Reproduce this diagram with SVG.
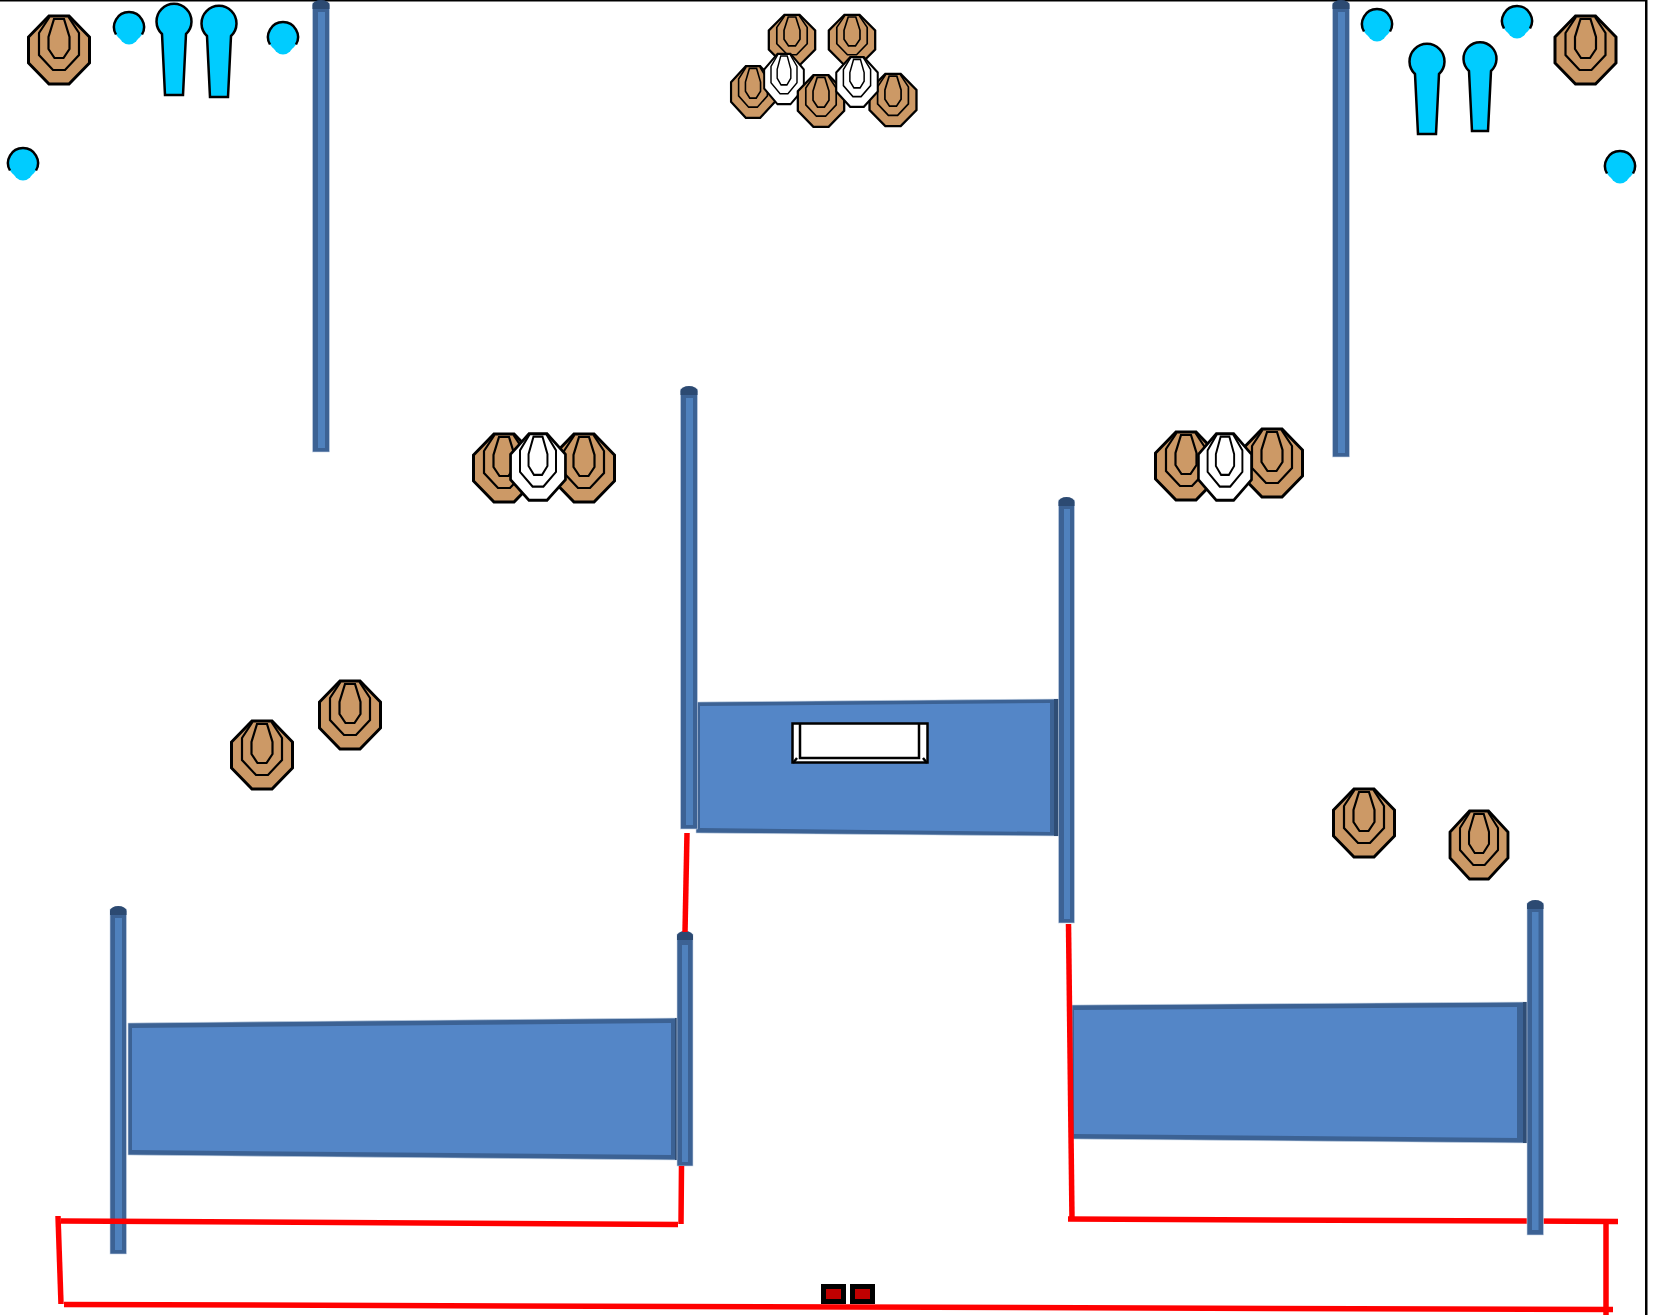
<svg xmlns="http://www.w3.org/2000/svg" width="1654" height="1315" viewBox="0 0 1654 1315">
<style>
.oct{stroke:#000;stroke-width:3;stroke-linejoin:miter}
.ring{fill:none;stroke:#000;stroke-width:2.2;stroke-linejoin:miter}
.brown{fill:#cc9966}
.white{fill:#fff}
.cyan{fill:#00ccff}
.cyanS{fill:#00ccff;stroke:#000;stroke-width:2.5}
.arc{fill:none;stroke:#000;stroke-width:2.5}
.po{fill:#3c6294;stroke:#c9d6e8;stroke-width:.6}
.pi{fill:#4f81bd}
.cap{fill:#2c4a72}
.pan{fill:#3c6294;stroke:#c9d6e8;stroke-width:.6}
.pani{fill:#5486c7}
.band{fill:#2f4d75}
.red{fill:none;stroke:#ff0000;stroke-width:5.500}
</style>
<defs>
<g id="tgt">
<polygon class="oct" points="-10,-34 10,-34 30.500,-13 30.500,13 10,34 -10,34 -30.500,13 -30.500,-13"/>
<polyline class="ring" points="-9.500,-33 -20,-17 -20,5 -6,20 6,20 20,5 20,-17 9.500,-33"/>
<polygon class="ring" points="-5,-31 5,-31 10.500,-13 10.500,-1 4.500,8 -4.500,8 -10.500,-1 -10.500,-13"/>
</g>
<g id="steel">
<circle class="cyan" r="15"/>
<path class="arc" d="M-13,7.500 A15,15 0 1 1 13,7.500"/>
<circle class="cyan" cy="7.500" r="10"/>
</g>
</defs>
<rect width="1654" height="1315" fill="#fff"/>
<g id="frame">
<rect x="0" y="0" width="1647" height="1.500" fill="#000"/>
<rect x="1645" y="0" width="2.500" height="1315" fill="#000"/>
</g>
<g id="panel-left">
<polygon class="pan" points="128,1023 678,1018 678,1160 128,1155"/>
<polygon class="pani" points="132,1028 671,1023 671,1155 132,1150"/>
<polygon class="band" points="675,1018 678,1018 678,1160 675,1160"/>
</g>
<g id="panel-mid">
<polygon class="pan" points="696,702 1059,699 1059,836 696,833"/>
<polygon class="pani" points="700,706 1050,703 1050,832 700,828"/>
<polygon class="band" points="1054,699 1059,699 1059,836 1054,836"/>
<rect x="792.500" y="723.500" width="135" height="39" fill="#fff" stroke="#000" stroke-width="2.500"/>
<path d="M800,724V758H919V724M793,763L797,758M927,763L923,758" fill="none" stroke="#000" stroke-width="2.500"/>
</g>
<g id="panel-right">
<polygon class="pan" points="1072,1005 1527,1002 1527,1143 1072,1139"/>
<polygon class="pani" points="1074,1010 1517,1007 1517,1138 1074,1134"/>
<polygon class="band" points="1523,1002 1527,1002 1527,1143 1523,1143"/>
</g>
<g id="post-a"><rect class="po" x="312.500" y="3" width="17" height="449"/><rect class="pi" x="318" y="12" width="7" height="436"/><path class="cap" d="M312.500,9V5A8.500,5 0 0 1 329.500,5V9Z"/></g>
<g id="post-b"><rect class="po" x="1332.500" y="3" width="17" height="454"/><rect class="pi" x="1338" y="12" width="7" height="441"/><path class="cap" d="M1332.500,9V5A8.500,5 0 0 1 1349.500,5V9Z"/></g>
<g id="post-c"><rect class="po" x="680.500" y="389" width="17" height="440"/><rect class="pi" x="686" y="398" width="7" height="427"/><path class="cap" d="M680.500,395V391A8.500,5 0 0 1 697.500,391V395Z"/></g>
<g id="post-d"><rect class="po" x="1058.500" y="500" width="16" height="423"/><rect class="pi" x="1064" y="509" width="6" height="410"/><path class="cap" d="M1058.500,506V502A8,5 0 0 1 1074.500,502V506Z"/></g>
<g id="post-e"><rect class="po" x="677" y="934" width="16" height="232"/><rect class="pi" x="682" y="945" width="6" height="217"/><path class="cap" d="M677,940V936A8,5 0 0 1 693,936V940Z"/></g>
<g id="post-f"><rect class="po" x="110" y="909" width="16.500" height="345"/><rect class="pi" x="115" y="918" width="7" height="332"/><path class="cap" d="M110,915V911A8.250,5 0 0 1 126.500,911V915Z"/></g>
<g id="connectors">
<path class="red" d="M687,833L685,932"/>
<path class="red" d="M1068.500,924L1072,1219"/>
<path class="red" d="M1068,1219L1618,1221.500"/>
<path class="red" d="M1606,1221V1315"/>
<path class="red" d="M64,1304.500L1613,1309.500"/>
<path class="red" d="M58,1216L61,1304"/>
<path class="red" d="M61,1221L678,1224.500M681.500,1166L681,1224"/>
</g>
<g id="post-g"><rect class="po" x="1527" y="903" width="16.500" height="332"/><rect class="pi" x="1532" y="912" width="6.500" height="318"/><path class="cap" d="M1527,909V905A8.250,5 0 0 1 1543.500,905V909Z"/></g>
<g id="target-1" class="brown"><use href="#tgt" transform="translate(59,50)"/></g>
<g id="target-2" class="brown"><use href="#tgt" transform="translate(1585.500,50)"/></g>
<g id="target-3" class="brown"><use href="#tgt" transform="translate(262,755)"/></g>
<g id="target-4" class="brown"><use href="#tgt" transform="translate(350,715)"/></g>
<g id="target-5" class="brown"><use href="#tgt" transform="translate(1364,823)"/></g>
<g id="target-6" class="brown"><use href="#tgt" transform="translate(1479,845) scale(.95,1)"/></g>
<g id="cluster-top">
<g class="brown"><use href="#tgt" transform="translate(792,40) scale(.76,.74)"/></g>
<g class="brown"><use href="#tgt" transform="translate(852,40) scale(.76,.74)"/></g>
<g class="brown"><use href="#tgt" transform="translate(753,92) scale(.72,.76)"/></g>
<g class="white"><use href="#tgt" transform="translate(784,79) scale(.65,.74)"/></g>
<g class="brown"><use href="#tgt" transform="translate(821,101) scale(.76,.76)"/></g>
<g class="brown"><use href="#tgt" transform="translate(893,100) scale(.77,.77)"/></g>
<g class="white"><use href="#tgt" transform="translate(857,82) scale(.68,.73)"/></g>
</g>
<g id="cluster-left">
<g class="brown"><use href="#tgt" transform="translate(504,468)"/></g>
<g class="brown"><use href="#tgt" transform="translate(584,468)"/></g>
<g class="white"><use href="#tgt" transform="translate(538,467) scale(.9,.98)"/></g>
</g>
<g id="cluster-right">
<g class="brown"><use href="#tgt" transform="translate(1186,466)"/></g>
<g class="brown"><use href="#tgt" transform="translate(1272,463)"/></g>
<g class="white"><use href="#tgt" transform="translate(1225,467) scale(.87,.98)"/></g>
</g>
<g id="steel-1"><use href="#steel" transform="translate(129,27)"/></g>
<g id="steel-2"><use href="#steel" transform="translate(283,37)"/></g>
<g id="steel-3"><use href="#steel" transform="translate(23,163)"/></g>
<g id="steel-4"><use href="#steel" transform="translate(1377,24)"/></g>
<g id="steel-5"><use href="#steel" transform="translate(1517,21)"/></g>
<g id="steel-6"><use href="#steel" transform="translate(1620,166)"/></g>
<g id="popper-1"><path class="cyanS" d="M162,34A17.500,17.500 0 1 1 186,34L183,95H165Z"/></g>
<g id="popper-2"><path class="cyanS" d="M207,36A17.500,17.500 0 1 1 231,36L228,97H210Z"/></g>
<g id="popper-3"><path class="cyanS" d="M1415,74A17.500,17.500 0 1 1 1439,74L1436,134H1418Z"/></g>
<g id="popper-4"><path class="cyanS" d="M1469,71A16.500,16.500 0 1 1 1491,71L1488,131H1472Z"/></g>
<g id="stop-plate-1"><rect x="821" y="1284" width="25" height="20" fill="#000"/><rect x="826" y="1289" width="15" height="10" fill="#c00000"/></g>
<g id="stop-plate-2"><rect x="850" y="1284" width="25" height="20" fill="#000"/><rect x="855" y="1289" width="15" height="10" fill="#c00000"/></g>
</svg>
